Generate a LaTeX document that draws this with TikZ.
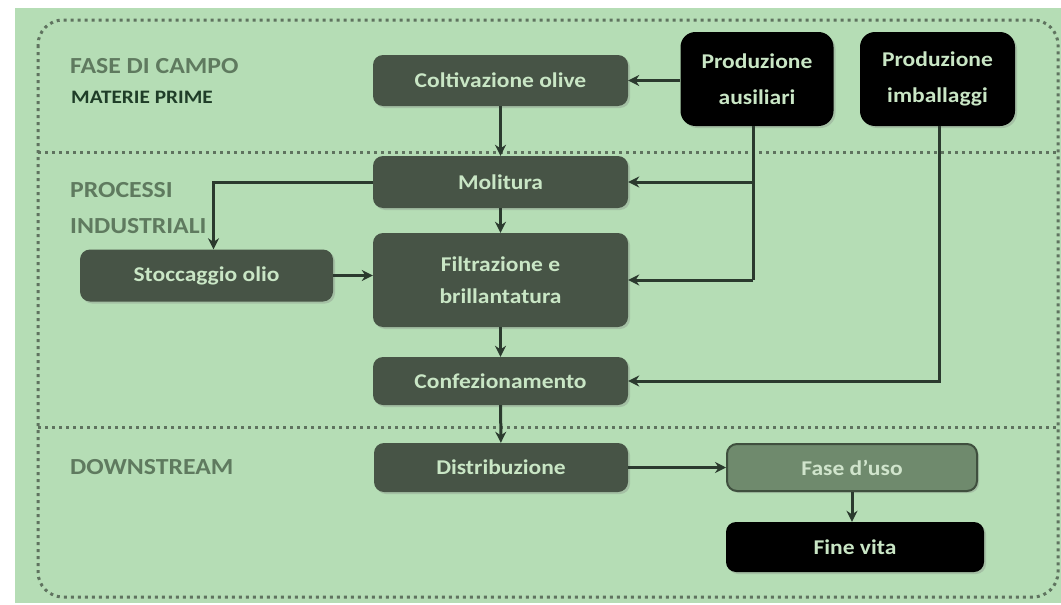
\documentclass[tikz,border=0pt]{standalone}
\usepackage{fontspec}
\setmainfont{Carlito}[FakeStretch=1.12]
\usetikzlibrary{positioning,arrows.meta,shadows}

\definecolor{bgreen}{RGB}{181,221,181}
\definecolor{boxfill}{RGB}{71,84,70}
\definecolor{boxtext}{RGB}{201,230,197}
\definecolor{usefill}{RGB}{111,138,109}
\definecolor{usedraw}{RGB}{63,79,62}
\definecolor{usetext}{RGB}{208,228,204}
\definecolor{arrowc}{RGB}{43,58,46}
\definecolor{dotc}{RGB}{95,115,95}
\definecolor{phasec}{RGB}{95,122,95}
\definecolor{subc}{RGB}{31,61,40}

\begin{document}
\begin{tikzpicture}[
        x=1pt, y=-1pt,
        font=\fontsize{21}{25}\selectfont\bfseries,
        box/.style={
            fill=boxfill, text=boxtext, rounded corners=10pt, align=center,
            inner sep=0pt, minimum width=255pt, minimum height=51pt,
            drop shadow={opacity=.3, shadow xshift=2pt, shadow yshift=-2pt}
        },
        blackbox/.style={box, fill=black, rounded corners=15pt},
        usebox/.style={box, fill=usefill, draw=usedraw, line width=2pt, text=usetext},
        phase/.style={anchor=west, text=phasec, inner sep=0pt,
                      font=\fontsize{23}{27}\selectfont\bfseries},
        sep/.style={dotc, line width=3pt, dash pattern=on 3pt off 4pt},
        ar/.style={-{Stealth[length=11pt, width=11pt]}, line width=3pt, arrowc},
        ln/.style={line width=3pt, arrowc}
    ]
    %% ---- background and dotted frame ----
    \useasboundingbox (0,0) rectangle (1061,605);
    \fill[bgreen] (15,8) rectangle (1061,603);
    \draw[sep, rounded corners=25pt] (38,20) rectangle (1058,597);
    \draw[sep] (38,152) -- (1058,152);
    \draw[sep] (38,427) -- (1058,427);

    %% ---- phase labels ----
    \node[phase] (campo) at (70,66) {FASE DI CAMPO};
    \node[phase, text=subc, font=\fontsize{19}{23}\selectfont\bfseries] (materie) at (71,97) {MATERIE PRIME};
    \node[phase] (processi) at (70,190) {PROCESSI};
    \node[phase] (industr) at (70,226) {INDUSTRIALI};
    \node[phase] (down) at (70,467) {DOWNSTREAM};

    %% ---- field phase ----
    \node[box] (colt) at (500.5,80.5) {Coltivazione olive};
    \node[blackbox, minimum width=153pt, minimum height=94pt] (ausil) at (757,79) {Produzione\\[11pt] ausiliari};
    \node[blackbox, minimum width=155pt, minimum height=94pt] (imball) at (937.5,79) {Produzione\\[11pt] imballaggi};

    %% ---- industrial processes ----
    \node[box, minimum height=52pt] (molit) at (500.5,182) {Molitura};
    \node[box, minimum height=94pt] (filtr) at (500.5,280) {Filtrazione e\\[7pt] brillantatura};
    \node[box, minimum width=253pt, minimum height=52pt] (stocc) at (206.5,275.5) {Stoccaggio olio};
    \node[box, minimum height=48pt] (confez) at (500.5,381) {Confezionamento};

    %% ---- downstream ----
    \node[box, minimum width=254pt, minimum height=49pt] (distr) at (501,467.5) {Distribuzione};
    \node[usebox, minimum width=250pt, minimum height=47pt] (uso) at (852,467.5) {Fase d’uso};
    \node[blackbox, rounded corners=10pt, minimum width=258pt, minimum height=50pt] (fine) at (855,547) {Fine vita};

    %% ---- connectors ----
    \coordinate (tap) at ([xshift=-4pt]ausil.south);
    \draw[ar] (ausil.west |- colt.east) -- (colt.east);
    \draw[ar] (colt) -- (molit);
    \draw[ln] (tap) -- (tap |- filtr.east);
    \draw[ar] (tap |- filtr.east) -- (filtr.east);
    \draw[ar] (tap |- molit.east) -- (molit.east);
    \draw[ar] (molit.west) -| ([xshift=7pt]stocc.north);
    \draw[ar] (stocc.east) -- (filtr.west |- stocc.east);
    \draw[ar] (molit) -- (filtr);
    \draw[ar] (filtr) -- (confez);
    \draw[ar] ([xshift=2pt]imball.south) |- (confez.east);
    \draw[ar] (confez) -- (distr);
    \draw[ar] (distr) -- (uso);
    \draw[ar] (uso.south) -- (uso.south |- fine.north);
\end{tikzpicture}
\end{document}
